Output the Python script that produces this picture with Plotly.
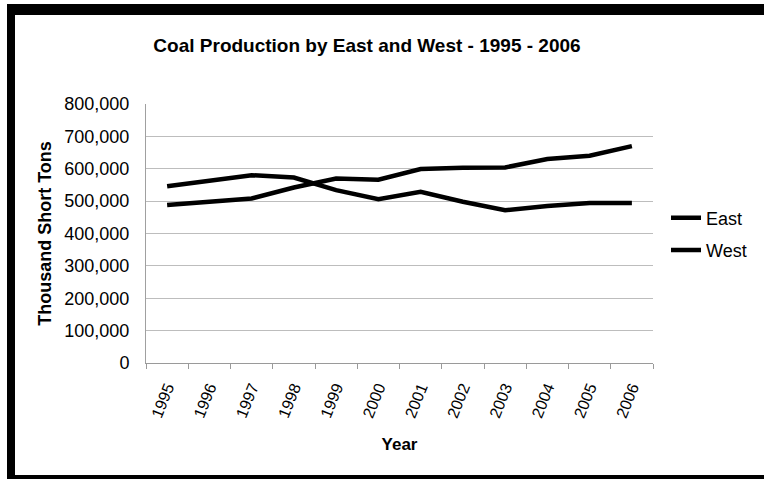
import plotly.graph_objects as go

# Coal production, thousand short tons
years = ["1995", "1996", "1997", "1998", "1999", "2000",
         "2001", "2002", "2003", "2004", "2005", "2006"]
east = [546000, 564000, 580000, 573000, 534000, 506000,
        529000, 498000, 472000, 485000, 494000, 494000]
west = [488000, 499000, 508000, 542000, 570000, 566000,
        599000, 603000, 604000, 630000, 640000, 670000]

y_ticks = [0, 100000, 200000, 300000, 400000, 500000, 600000, 700000, 800000]

W, H = 764, 479
L, R, T, B = 146, 111, 104, 116
PW, PH = W - L - R, H - T - B


def px(x):
    return (x - L) / PW


def py(y):
    return (H - B - y) / PH


font = "Liberation Sans, Arial, sans-serif"

fig = go.Figure()
fig.add_trace(go.Scatter(x=years, y=east, name="East", mode="lines",
                         legendgroup="east",
                         line=dict(color="black", width=4.5)))
fig.add_trace(go.Scatter(x=years, y=west, name="West", mode="lines",
                         legendgroup="west",
                         line=dict(color="black", width=4.5)))

# heavy frame on the left, top and bottom edges
frame = [(7, 4, W, 15), (7, 4, 15, H), (7, 475, W, H)]
shapes = [dict(type="rect", xref="paper", yref="paper",
               x0=px(x0), x1=px(x1), y0=py(y1), y1=py(y0),
               fillcolor="black", line=dict(width=0), layer="above")
          for x0, y0, x1, y1 in frame]

fig.update_layout(
    width=W, height=H,
    margin=dict(l=L, r=R, t=T, b=B),
    paper_bgcolor="white", plot_bgcolor="white",
    font=dict(family=font, color="black", size=18),
    title=dict(text="<b>Coal Production by East and West - 1995 - 2006</b>",
               xref="container", x=367 / W, xanchor="center",
               yref="container", y=1 - 45 / H, yanchor="middle",
               font=dict(size=19)),
    xaxis=dict(
        type="category", range=[-0.5, 11.5],
        tickangle=-68, tickfont=dict(size=16),
        showgrid=False, showline=True, linecolor="#9a9a9a", linewidth=1,
        ticks="outside", tickson="boundaries", ticklen=5, tickcolor="#9a9a9a",
        ticklabelstandoff=8,
        title=dict(text="<b>Year</b>", font=dict(size=17), standoff=18),
        zeroline=False,
    ),
    yaxis=dict(
        range=[0, 800000], tickvals=y_ticks,
        ticktext=[f"{v:,}" for v in y_ticks],
        tickfont=dict(size=18),
        showgrid=True, gridcolor="#bdbdbd", gridwidth=1,
        showline=True, linecolor="#a0a0a0", linewidth=1,
        zeroline=False, ticks="", ticklabelstandoff=12,
        title=dict(text="<b>Thousand Short Tons</b>", font=dict(size=18), standoff=8),
    ),
    legend=dict(x=px(666), xanchor="left", y=py(234), yanchor="middle",
                bgcolor="rgba(0,0,0,0)", font=dict(size=18),
                traceorder="grouped", tracegroupgap=6),
    shapes=shapes,
    showlegend=True,
)

fig.write_html("out.html")
